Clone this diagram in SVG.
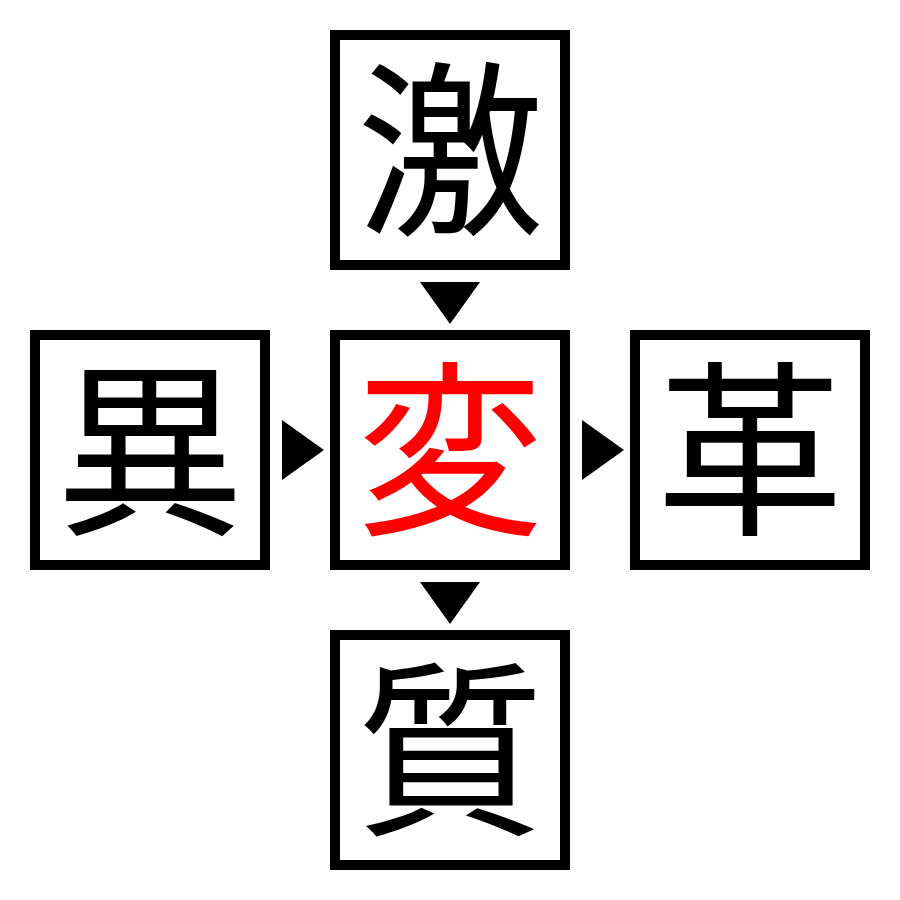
<svg xmlns="http://www.w3.org/2000/svg" width="900" height="900" viewBox="0 0 900 900">
<style>
.box{fill:#fff;stroke:#000;stroke-width:10}
.ch{font-family:"Noto Sans CJK JP",serif;font-size:188px;text-anchor:middle}
.arr{fill:#000}
</style>
<rect width="900" height="900" fill="#fff"/>
<g id="node-top"><rect class="box" x="335" y="35" width="230" height="230"/><text class="ch" x="450" y="220">激</text></g>
<g id="node-left"><rect class="box" x="35" y="335" width="230" height="230"/><text class="ch" x="150" y="520">異</text></g>
<g id="node-center"><rect class="box" x="335" y="335" width="230" height="230"/><text class="ch" x="450" y="520" fill="#ff0000">変</text></g>
<g id="node-right"><rect class="box" x="635" y="335" width="230" height="230"/><text class="ch" x="750" y="520">革</text></g>
<g id="node-bottom"><rect class="box" x="335" y="635" width="230" height="230"/><text class="ch" x="450" y="820">質</text></g>
<g id="connectors">
<polygon class="arr" points="420,282 480,282 450,324"/>
<polygon class="arr" points="282,420 282,480 324,450"/>
<polygon class="arr" points="582,420 582,480 624,450"/>
<polygon class="arr" points="420,582 480,582 450,624"/>
</g>
</svg>
